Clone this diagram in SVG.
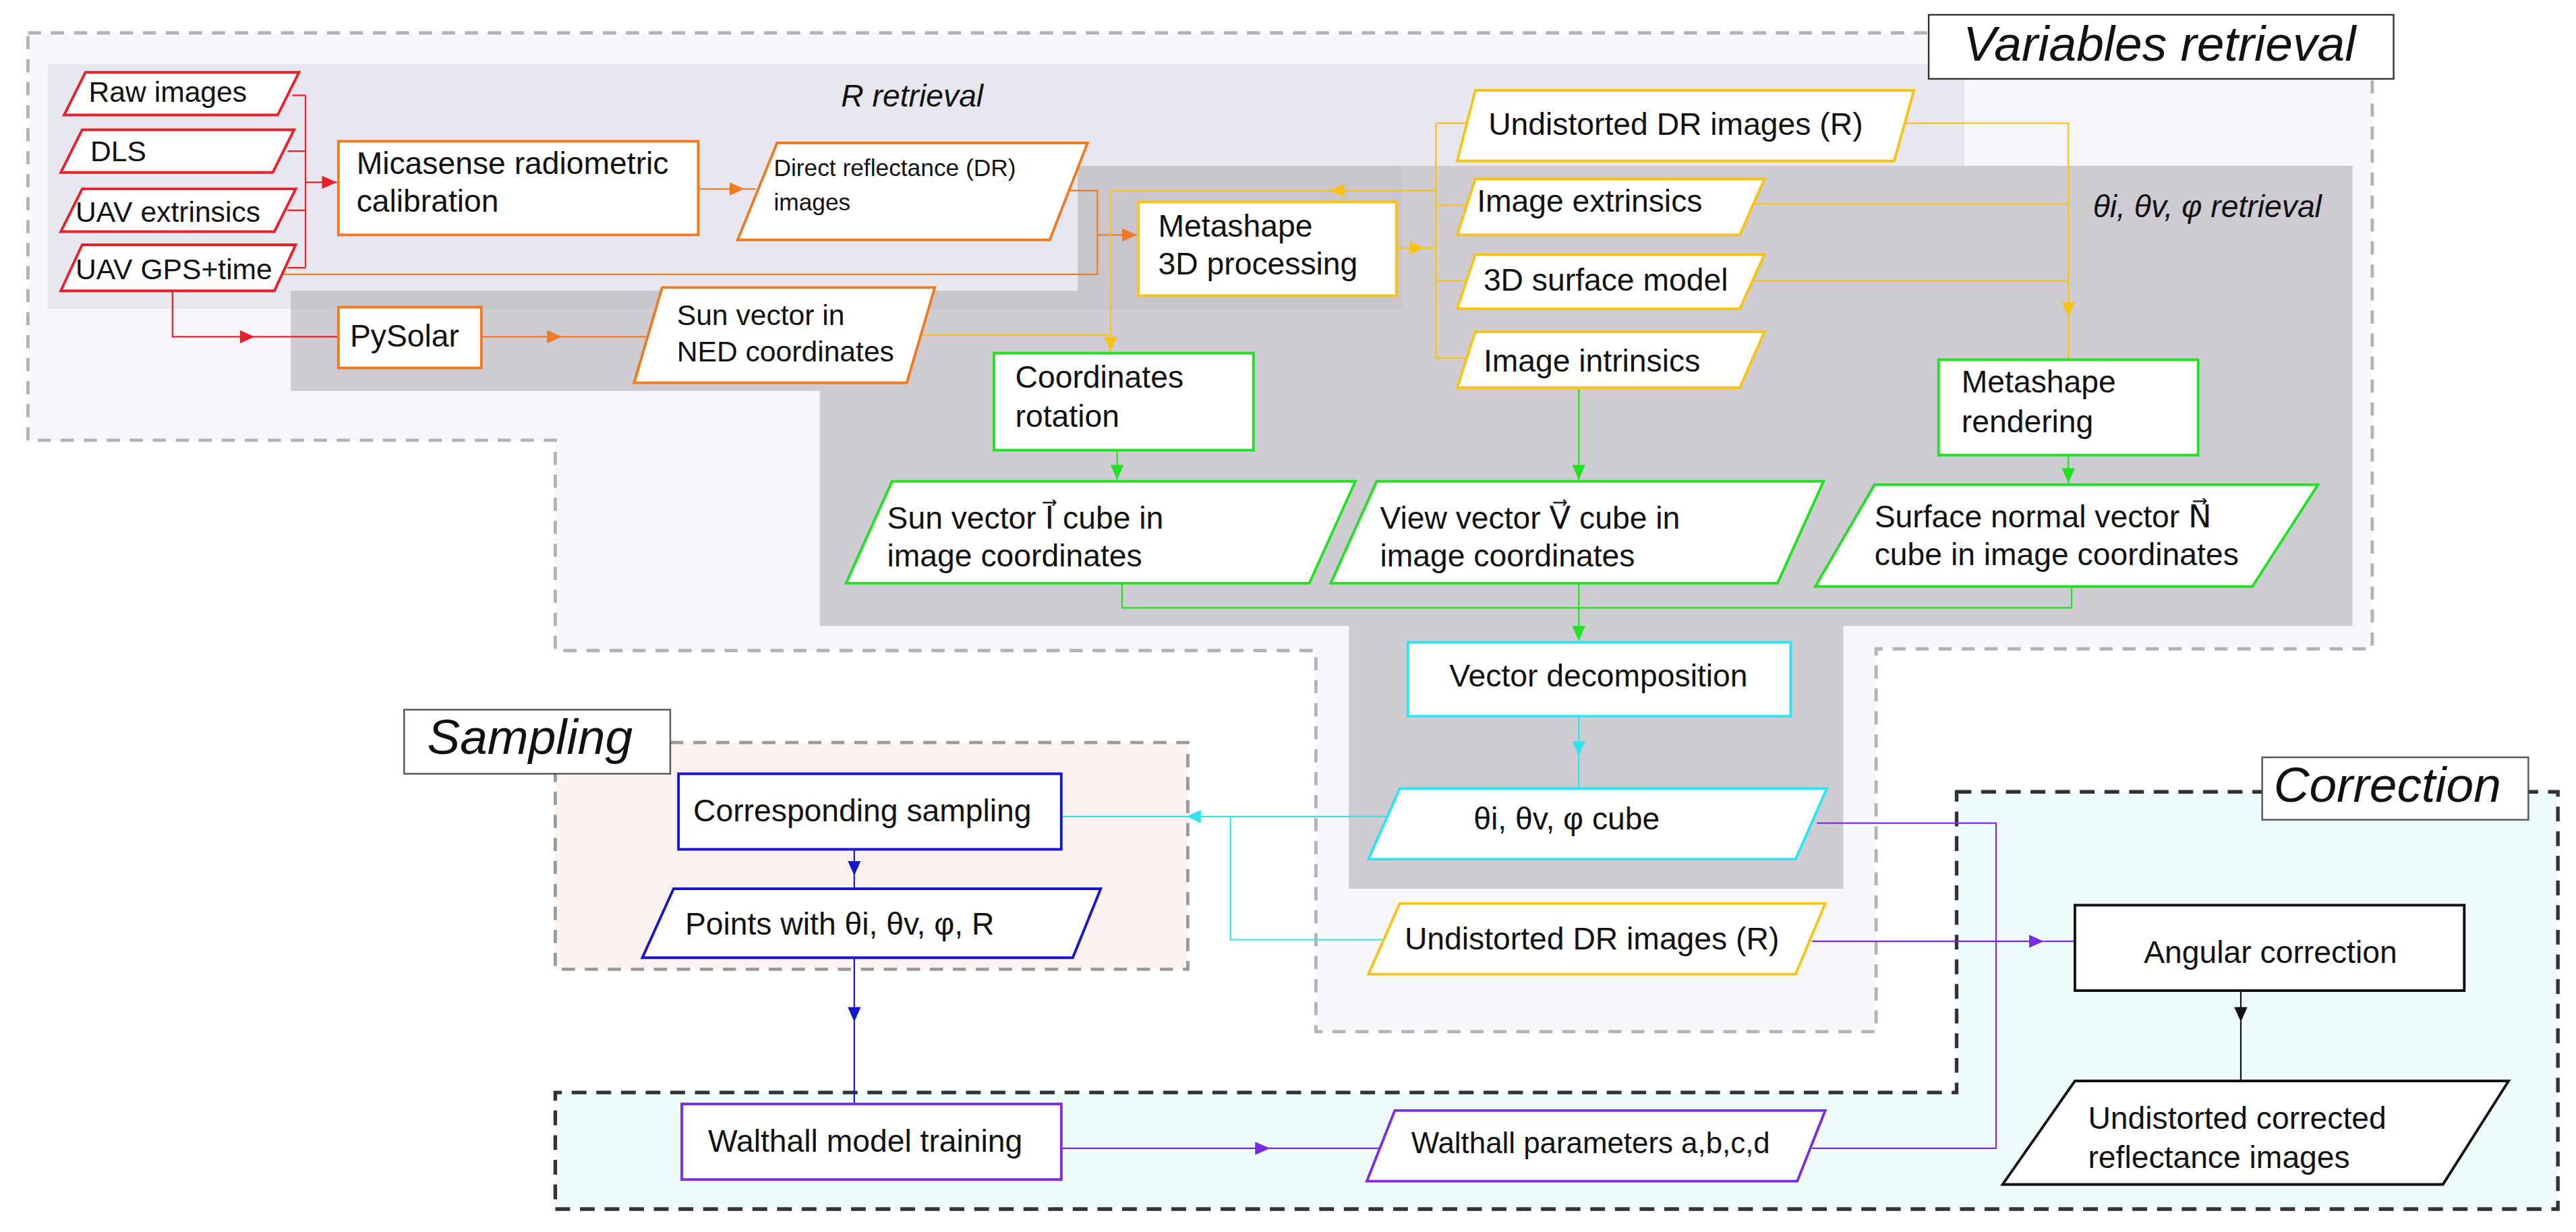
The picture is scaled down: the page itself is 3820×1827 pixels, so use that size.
<svg xmlns="http://www.w3.org/2000/svg" width="3820" height="1827" viewBox="0 0 3820 1827">
<defs>
<style>
text{font-family:"Liberation Sans",Arial,"DejaVu Sans",sans-serif;font-size:19px;fill:#111}
.it{font-style:italic}
.lbl{font-size:30px;font-style:italic}
.n{fill:#fff;stroke-width:1.6}
.red{stroke:#e8202a}.org{stroke:#f07a22}.yel{stroke:#f9c313}.grn{stroke:#22e022}.cyn{stroke:#2ee4f0}.blu{stroke:#1616cf}.pur{stroke:#7b2be2}.blk{stroke:#111}
.c{fill:none;stroke-width:0.9}
</style>
<marker id="mr" markerUnits="userSpaceOnUse" markerWidth="9" markerHeight="8" refX="9" refY="4" orient="auto"><path d="M0,0L9,4L0,8z" fill="#e8202a"/></marker>
<marker id="mo" markerUnits="userSpaceOnUse" markerWidth="9" markerHeight="8" refX="9" refY="4" orient="auto"><path d="M0,0L9,4L0,8z" fill="#f07a22"/></marker>
<marker id="my" markerUnits="userSpaceOnUse" markerWidth="9" markerHeight="8" refX="9" refY="4" orient="auto"><path d="M0,0L9,4L0,8z" fill="#f9c313"/></marker>
<marker id="mg" markerUnits="userSpaceOnUse" markerWidth="9" markerHeight="8" refX="9" refY="4" orient="auto"><path d="M0,0L9,4L0,8z" fill="#22e022"/></marker>
<marker id="mc" markerUnits="userSpaceOnUse" markerWidth="9" markerHeight="8" refX="9" refY="4" orient="auto"><path d="M0,0L9,4L0,8z" fill="#2ee4f0"/></marker>
<marker id="mb" markerUnits="userSpaceOnUse" markerWidth="9" markerHeight="8" refX="9" refY="4" orient="auto"><path d="M0,0L9,4L0,8z" fill="#1616cf"/></marker>
<marker id="mp" markerUnits="userSpaceOnUse" markerWidth="9" markerHeight="8" refX="9" refY="4" orient="auto"><path d="M0,0L9,4L0,8z" fill="#7b2be2"/></marker>
<marker id="mk" markerUnits="userSpaceOnUse" markerWidth="9" markerHeight="8" refX="9" refY="4" orient="auto"><path d="M0,0L9,4L0,8z" fill="#111"/></marker>
</defs>
<rect width="3820" height="1827" fill="#fff"/>
<g transform="scale(2.4362)">
<g id="regions">
<polygon points="17,20 1444,20 1444,395 1142,395 1142,628 801,628 801,396 338,396 338,268 17,268" fill="#f7f6fb" stroke="#b3b3b3" stroke-width="2" stroke-dasharray="8 6"/>
<rect x="338" y="452" width="385" height="138" fill="#fcf3f1" stroke="#9a9a9a" stroke-width="2" stroke-dasharray="8 6"/>
<polygon points="1191,482 1557,482 1557,736 338,736 338,665 1191,665" fill="#effcfd" stroke="#333" stroke-width="2.2" stroke-dasharray="9 6"/>
<polygon points="29,39 1196,39 1196,101 853,101 853,188 29,188" fill="#e8e6ee"/>
<polygon points="656,101 1432,101 1432,381 1122,381 1122,541 821,541 821,381 499,381 499,238 177,238 177,177 656,177" fill="#b3afb8" fill-opacity="0.6"/>
<text x="512" y="65" class="it">R retrieval</text>
<text x="1274" y="132" class="it">θi, θv, φ retrieval</text>
</g>
<g id="label-variables"><rect x="1174" y="9" width="283" height="39" fill="#fff" stroke="#333" stroke-width="1"/><text x="1195" y="37" class="lbl">Variables retrieval</text></g>
<g id="label-sampling"><rect x="246" y="432" width="162" height="39" fill="#fff" stroke="#555" stroke-width="1"/><text x="260" y="459" class="lbl">Sampling</text></g>
<g id="label-correction"><rect x="1377" y="461" width="162" height="38" fill="#fff" stroke="#555" stroke-width="1"/><text x="1384" y="488" class="lbl">Correction</text></g>

<g id="connectors">
<path class="c red" d="M178,58H186M175,92H186M175,128H186M175,163H186M186,58V163"/>
<path class="c red" d="M186,111H205" marker-end="url(#mr)"/>
<path class="c red" d="M105,177V205H155" marker-end="url(#mr)"/>
<path class="c red" d="M155,205H206"/>
<path class="c org" d="M425,115H453" marker-end="url(#mo)"/>
<path class="c org" d="M453,115H460"/>
<path class="c org" d="M645,116H668V167M172,167H668"/>
<path class="c org" d="M668,143H692" marker-end="url(#mo)"/>
<path class="c org" d="M293,205H342" marker-end="url(#mo)"/>
<path class="c org" d="M342,205H393"/>
<path class="c yel" d="M560,204H676"/>
<path class="c yel" d="M676,116V214" marker-end="url(#my)"/>
<path class="c yel" d="M874,116H809" marker-end="url(#my)"/>
<path class="c yel" d="M809,116H676"/>
<path class="c yel" d="M850,151H867" marker-end="url(#my)"/>
<path class="c yel" d="M867,151H874M874,75V218M874,75H893M874,125H893M874,171H893M874,218H893"/>
<path class="c yel" d="M1160,75H1259V193" marker-end="url(#my)"/>
<path class="c yel" d="M1259,193V219M1066,124H1259M1066,171H1259"/>
<path class="c grn" d="M680,274V292" marker-end="url(#mg)"/>
<path class="c grn" d="M961,236V292" marker-end="url(#mg)"/>
<path class="c grn" d="M1259,277V294" marker-end="url(#mg)"/>
<path class="c grn" d="M683,355V370H1261V357M961,355V370"/>
<path class="c grn" d="M961,370V390" marker-end="url(#mg)"/>
<path class="c cyn" d="M961,436V460" marker-end="url(#mc)"/>
<path class="c cyn" d="M961,460V480"/>
<path class="c cyn" d="M845,497H722" marker-end="url(#mc)"/>
<path class="c cyn" d="M722,497H646M749,497V572H842"/>
<path class="c blu" d="M520,517V533" marker-end="url(#mb)"/>
<path class="c blu" d="M520,533V541"/>
<path class="c blu" d="M520,583V622" marker-end="url(#mb)"/>
<path class="c blu" d="M520,622V672"/>
<path class="c pur" d="M646,699H773" marker-end="url(#mp)"/>
<path class="c pur" d="M773,699H840M1103,699H1215V501H1106"/>
<path class="c pur" d="M1103,573H1244" marker-end="url(#mp)"/>
<path class="c pur" d="M1244,573H1263"/>
<path class="c blk" d="M1364,603V622" marker-end="url(#mk)"/>
<path class="c blk" d="M1364,622V658"/>
</g>

<g id="raw"><polygon class="n red" points="52,44 182,44 169,70 39,70"/><text x="54" y="62" style="font-size:17.5px">Raw images</text></g>
<g id="dls"><polygon class="n red" points="50,79 179,79 166,105 37,105"/><text x="55" y="98" style="font-size:17.5px">DLS</text></g>
<g id="uav-ext"><polygon class="n red" points="50,115 180,115 167,141 37,141"/><text x="46" y="135" style="font-size:17.5px">UAV extrinsics</text></g>
<g id="uav-gps"><polygon class="n red" points="50,149 180,149 167,177 37,177"/><text x="46" y="170" style="font-size:17.5px">UAV GPS+time</text></g>
<g id="micasense"><rect class="n org" x="206" y="86" width="219" height="57"/><text x="217" y="106">Micasense radiometric</text><text x="217" y="129">calibration</text></g>
<g id="dr"><polygon class="n org" points="473,87 662,87 639,146 449,146"/><text x="471" y="107" style="font-size:14.5px">Direct reflectance (DR)</text><text x="471" y="128" style="font-size:14.5px">images</text></g>
<g id="pysolar"><rect class="n org" x="206" y="187" width="87" height="37"/><text x="213" y="211">PySolar</text></g>
<g id="sun-ned"><polygon class="n org" points="403,175 569,175 552,233 386,233"/><text x="412" y="198" style="font-size:17.5px">Sun vector in</text><text x="412" y="220" style="font-size:17.5px">NED coordinates</text></g>
<g id="meta3d"><rect class="n yel" x="693" y="123" width="157" height="57"/><text x="705" y="144">Metashape</text><text x="705" y="167">3D processing</text></g>
<g id="undr"><polygon class="n yel" points="898,55 1165,55 1153,98 887,98"/><text x="906" y="82">Undistorted DR images (R)</text></g>
<g id="iext"><polygon class="n yel" points="898,109 1074,109 1059,143 887,143"/><text x="899" y="129">Image extrinsics</text></g>
<g id="surf"><polygon class="n yel" points="898,155 1074,155 1059,188 887,188"/><text x="903" y="177">3D surface model</text></g>
<g id="iint"><polygon class="n yel" points="898,202 1074,202 1059,236 887,236"/><text x="903" y="226">Image intrinsics</text></g>
<g id="coordrot"><rect class="n grn" x="605" y="215" width="158" height="59"/><text x="618" y="236">Coordinates</text><text x="618" y="260">rotation</text></g>
<g id="metarend"><rect class="n grn" x="1180" y="219" width="158" height="58"/><text x="1194" y="239">Metashape</text><text x="1194" y="263">rendering</text></g>
<g id="suncube"><polygon class="n grn" points="543,293 825,293 797,355 515,355"/><text x="540" y="322">Sun vector I⃗ cube in</text><text x="540" y="345">image coordinates</text></g>
<g id="viewcube"><polygon class="n grn" points="838,293 1110,293 1082,355 810,355"/><text x="840" y="322">View vector V⃗ cube in</text><text x="840" y="345">image coordinates</text></g>
<g id="normcube"><polygon class="n grn" points="1141,295 1411,295 1371,357 1105,357"/><text x="1141" y="321">Surface normal vector N⃗</text><text x="1141" y="344">cube in image coordinates</text></g>
<g id="vecdec"><rect class="n cyn" x="857" y="391" width="233" height="45"/><text x="973" y="418" text-anchor="middle">Vector decomposition</text></g>
<g id="tcube"><polygon class="n cyn" points="852,480 1112,480 1093,523 833,523"/><text x="897" y="505">θi, θv, φ cube</text></g>
<g id="corrsamp"><rect class="n blu" x="413" y="471" width="233" height="46"/><text x="422" y="500">Corresponding sampling</text></g>
<g id="points"><polygon class="n blu" points="410,541 670,541 653,583 391,583"/><text x="417" y="569">Points with θi, θv, φ, R</text></g>
<g id="undr2"><polygon class="n yel" points="852,550 1111,550 1093,593 833,593"/><text x="855" y="578">Undistorted DR images (R)</text></g>
<g id="walthall"><rect class="n pur" x="415" y="672" width="231" height="46"/><text x="431" y="701">Walthall model training</text></g>
<g id="wparams"><polygon class="n pur" points="849,676 1111,676 1094,719 832,719"/><text x="859" y="702" style="font-size:18px">Walthall parameters a,b,c,d</text></g>
<g id="angular"><rect class="n blk" x="1263" y="551" width="237" height="52"/><text x="1305" y="586">Angular correction</text></g>
<g id="undcorr"><polygon class="n blk" points="1263,658 1527,658 1487,721 1219,721"/><text x="1271" y="687">Undistorted corrected</text><text x="1271" y="711">reflectance images</text></g>
</g>
</svg>
